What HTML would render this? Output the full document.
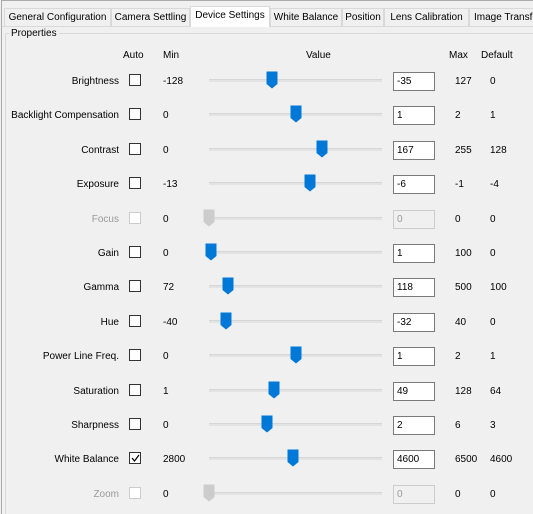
<!DOCTYPE html>
<html><head><meta charset="utf-8"><style>
html,body{margin:0;width:533px;height:514px;overflow:hidden}
body{background:#f0f0f0;font-family:"Liberation Sans",sans-serif;font-size:10px;color:#000;position:relative}
.abs{position:absolute;white-space:nowrap}
.tab{position:absolute;top:8px;height:18px;line-height:17px;border:1px solid #d9d9d9;border-bottom:none;background:#f0f0f0;text-align:center;box-sizing:border-box;font-size:10px}
.tab.sel{top:6px;height:21px;background:#fff;z-index:2}
.cb{position:absolute;width:12px;height:12px;border:1px solid #333;background:#fff;box-sizing:border-box}
.cb.dis{border-color:#ccc}
.track{position:absolute;height:2px;background:#e3e3e3;border-top:1px solid #d6d6d6}
.box{position:absolute;width:42px;height:19px;border:1px solid #7a7a7a;background:#fff;box-sizing:border-box;padding-left:3px;line-height:17px}
.box.dis{border-color:#ccc;background:#f0f0f0;color:#999}
.dim{color:#999}
</style></head><body>
<div class="abs" style="left:1px;top:0;width:531px;height:513px;border-left:1px solid #aaa;border-top:1px solid #aaa"></div>
<div class="abs" style="left:2px;top:26px;width:531px;height:1px;background:#d9d9d9"></div>
<div class="tab" style="left:4px;width:107px">General Configuration</div>
<div class="tab" style="left:111px;width:79px">Camera Settling</div>
<div class="tab sel" style="left:190px;width:80px">Device Settings</div>
<div class="tab" style="left:270px;width:72px">White Balance</div>
<div class="tab" style="left:342px;width:42px">Position</div>
<div class="tab" style="left:384px;width:85px">Lens Calibration</div>
<div class="tab" style="left:469px;width:70px;text-align:left;padding-left:4px">Image Transf</div>
<div class="abs" style="left:5px;top:33px;width:540px;height:500px;border:1px solid #d9d9d9;border-radius:2px"></div>
<div class="abs" style="left:9px;top:28px;background:#f0f0f0;padding:0 2px">Properties</div>
<div class="abs" style="left:123px;top:50px">Auto</div>
<div class="abs" style="left:163px;top:50px">Min</div>
<div class="abs" style="left:306px;top:50px">Value</div>
<div class="abs" style="left:449px;top:50px">Max</div>
<div class="abs" style="left:481px;top:50px">Default</div>
<div id="rows"></div>
<script>
const labels=["Brightness","Backlight Compensation","Contrast","Exposure","Focus","Gain","Gamma","Hue","Power Line Freq.","Saturation","Sharpness","White Balance","Zoom"];
const mins=[-128,0,0,-13,0,0,72,-40,0,1,0,2800,0];
const maxs=[127,2,255,-1,0,100,500,40,2,128,6,6500,0];
const values=[-35,1,167,-6,0,1,118,-32,1,49,2,4600,0];
const defaults=[0,1,128,-4,0,0,100,0,1,64,3,4600,0];
const autos=[0,0,0,0,0,0,0,0,0,0,0,1,0];
const enabled=[1,1,1,1,0,1,1,1,1,1,1,1,0];
const root=document.getElementById('rows');
const x0=209,x1=382;
function add(html){const d=document.createElement('div');d.innerHTML=html;const e=d.firstChild;root.appendChild(e);return e;}
labels.forEach((lab,i)=>{
 const y=80+i*34.4;const en=enabled[i];const key=lab.toLowerCase().replace(/[^a-z]+/g,'-').replace(/-$/,'');
 let e=add(`<div class="abs ${en?'':'dim'}" style="right:${533-119}px;top:${y-4}px">${lab}</div>`);
 
 
 e=add(`<div class="cb ${en?'':'dis'}" style="left:129px;top:${y-6}px"></div>`);
 
 
 if(autos[i])e.innerHTML='<svg width="10" height="10" style="position:absolute;left:0;top:0"><path d="M2 5 L4.5 8 L9 2" stroke="#000" stroke-width="1.2" fill="none"/></svg>';
 e=add(`<div class="abs" style="left:163px;top:${y-4}px">${mins[i]}</div>`);
 
 
 e=add(`<div class="track" style="left:${x0}px;width:${x1-x0}px;top:${y-1}px"></div>`);
 
 
 const r=maxs[i]-mins[i];const t=r?(values[i]-mins[i])/r:0;const cx=x0+t*(x1-x0);
 e=add(`<svg class="abs" width="12" height="18" style="left:${cx-6}px;top:${y-9}px"><path d="M0.5 0.5 H11.5 V13 L6 17.5 L0.5 13 Z" fill="${en?'#0078d7':'#cccccc'}"/></svg>`);
 
 
 e=add(`<div class="box ${en?'':'dis'}" style="left:393px;top:${y-8}px">${values[i]}</div>`);
 
 
 e=add(`<div class="abs" style="left:455px;top:${y-4}px">${maxs[i]}</div>`);
 
 
 e=add(`<div class="abs" style="left:490px;top:${y-4}px">${defaults[i]}</div>`);
 
 
});
</script>
</body></html>
